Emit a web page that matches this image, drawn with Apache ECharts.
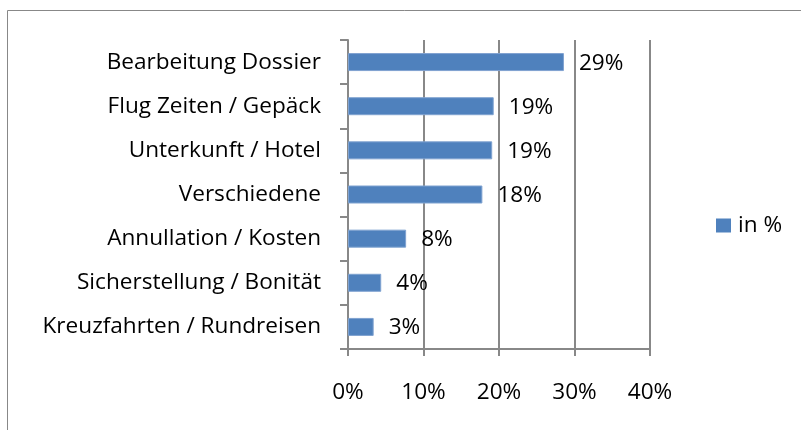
<!DOCTYPE html>
<html>
<head>
<meta charset="utf-8">
<script src="https://cdn.jsdelivr.net/npm/echarts@6/dist/echarts.min.js"></script>
<style>
  html, body { margin: 0; padding: 0; background: #fff; }
  #chart { width: 801px; height: 430px; }
</style>
</head>
<body>
<div id="chart"></div>
<script>
const categories = [
  'Bearbeitung Dossier',
  'Flug Zeiten / Gepäck',
  'Unterkunft / Hotel',
  'Verschiedene',
  'Annullation / Kosten',
  'Sicherstellung / Bonität',
  'Kreuzfahrten / Rundreisen'
];
const values = [28.6, 19.3, 19.1, 17.8, 7.7, 4.4, 3.4];
const seriesName = 'in %';
const xTicks = [0, 10, 20, 30, 40];

const FONT = 'Open Sans';
const FS = 22.6;
const GRAY = '#888888';

const chart = echarts.init(document.getElementById('chart'), null, { renderer: 'canvas' });
chart.setOption({
  animation: false,
  backgroundColor: '#ffffff',
  textStyle: { fontFamily: FONT },
  graphic: [{
    type: 'polyline',
    shape: { points: [[7.5, 430], [7.5, 10.5], [801, 10.5]] },
    style: { stroke: GRAY, lineWidth: 1, fill: null },
    silent: true
  }],
  grid: { left: 348, right: 151, top: 40, bottom: 81, containLabel: false },
  legend: {
    data: [seriesName],
    left: 711,
    top: 209,
    icon: 'rect',
    itemWidth: 15,
    itemHeight: 14,
    itemGap: 0,
    itemStyle: { borderWidth: 0 },
    textStyle: { fontFamily: FONT, fontSize: FS, color: '#000', padding: [0, 0, 0, 2] }
  },
  xAxis: {
    type: 'value',
    min: xTicks[0],
    max: xTicks[xTicks.length - 1],
    interval: 10,
    axisLine: { show: true, lineStyle: { color: GRAY, width: 2 } },
    axisTick: { show: true, length: 7, lineStyle: { color: GRAY, width: 2 } },
    splitLine: { show: true, lineStyle: { color: GRAY, width: 2 } },
    axisLabel: {
      margin: 32,
      fontFamily: FONT,
      fontSize: FS,
      color: '#000',
      formatter: v => v + '%'
    }
  },
  yAxis: {
    type: 'category',
    data: categories,
    inverse: true,
    axisLine: { show: true, lineStyle: { color: GRAY, width: 2 } },
    axisTick: { show: true, length: 8, alignWithLabel: false, lineStyle: { color: GRAY, width: 2 } },
    splitLine: { show: false },
    axisLabel: {
      margin: 27,
      fontFamily: FONT,
      fontSize: FS,
      color: '#000'
    }
  },
  series: [{
    name: seriesName,
    type: 'bar',
    data: values,
    barWidth: 18,
    itemStyle: { color: '#4F81BD', borderColor: '#7FA2D0', borderWidth: 1 },
    label: {
      show: true,
      position: 'right',
      distance: 15,
      fontFamily: FONT,
      fontSize: FS,
      color: '#000',
      offset: [0, 1],
      formatter: p => Math.round(p.value) + '%'
    }
  }]
});
</script>
</body>
</html>
